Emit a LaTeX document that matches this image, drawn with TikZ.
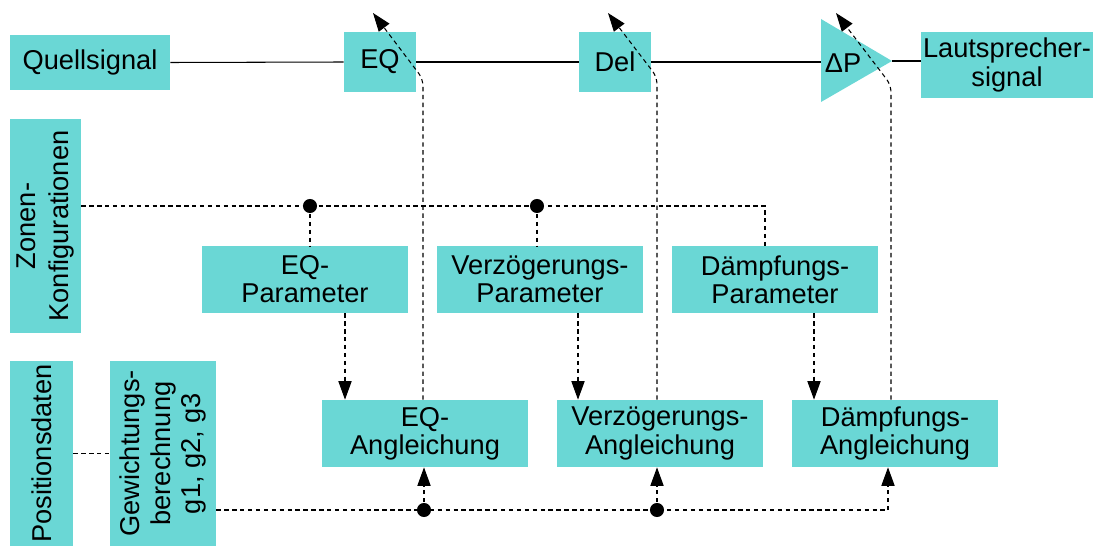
\documentclass[tikz,border=0pt]{standalone}
\usepackage{fontspec}
\setmainfont{Liberation Sans}
\usetikzlibrary{arrows.meta,calc}
\definecolor{turq}{RGB}{106,215,213}
\begin{document}
\begin{tikzpicture}[x=0.02cm,y=-0.02cm,
  box/.style={fill=turq,draw=none,inner sep=0pt,align=center,font=\fontsize{15.5}{16}\selectfont},
  vbox/.style={box,rotate=90,font=\fontsize{15.5}{17.6}\selectfont},
  sig/.style={line width=0.6pt},
  ctl/.style={line width=0.6pt,dash pattern=on 2.5pt off 2pt},
  arr/.style={-{Triangle[length=10.5pt,width=7.5pt]}},
  dot/.style={circle,fill=black,inner sep=0pt,minimum size=8pt}]
\useasboundingbox (0,0) rectangle (1105,547);
% top signal chain
\node[box,minimum width=160*0.02cm,minimum height=55*0.02cm] (src) at (90,62.5) {Quellsignal};
\node[box,minimum width=72*0.02cm,minimum height=60*0.02cm] (eq) at (380,62) {EQ};
\node[box,minimum width=72*0.02cm,minimum height=60*0.02cm] (del) at (615,62) {Del};
\fill[turq] (821,19) -- (892,61) -- (821,102) -- cycle;
\coordinate (dpL) at (821,62);
\coordinate (dpR) at (892,61);
\node[font=\fontsize{15.5}{16}\selectfont,inner sep=0pt] (dp) at (843,63) {ΔP};
\node[box,minimum width=172*0.02cm,minimum height=66*0.02cm] (out) at (1007,65) {Lautsprecher-\\signal};
% left column
\node[vbox,minimum width=214*0.02cm,minimum height=71*0.02cm,font=\fontsize{15.5}{18.5}\selectfont] (zon) at (45.5,226) {Zonen-\\Konfigurationen};
\node[vbox,minimum width=185*0.02cm,minimum height=63*0.02cm] (pos) at (41.5,453.5) {Positionsdaten};
\node[vbox,minimum width=185*0.02cm,minimum height=106*0.02cm] (gew) at (163,453.5) {Gewichtungs-\\berechnung\\g1, g2, g3};
% parameter boxes
\node[box,minimum width=206*0.02cm,minimum height=67*0.02cm] (eqp) at (305,279.5) {EQ-\\Parameter};
\node[box,minimum width=206*0.02cm,minimum height=67*0.02cm] (vzp) at (540,279.5) {Verzögerungs-\\Parameter};
\node[box,minimum width=206*0.02cm,minimum height=67*0.02cm] (dap) at (775,279.5) {Dämpfungs-\\Parameter};
% adjustment boxes
\node[box,minimum width=206*0.02cm,minimum height=67*0.02cm] (eqa) at (425,433.5) {EQ-\\Angleichung};
\node[box,minimum width=206*0.02cm,minimum height=67*0.02cm] (vza) at (660,433.5) {Verzögerungs-\\Angleichung};
\node[box,minimum width=206*0.02cm,minimum height=67*0.02cm] (daa) at (895,433.5) {Dämpfungs-\\Angleichung};
% signal lines
\draw[sig] (src.east) -- (eq.west);
\draw[sig] (eq.east) -- (del.west);
\draw[sig] (del.east) -- (dpL);
\draw[sig] (dpR) -- (out.west |- dpR);
% zone configuration bus
\coordinate (z1) at (310,206);
\coordinate (z2) at (537,206);
\coordinate (z3) at (765,206);
\draw[ctl] (zon.south |- z1) -- (z1) -- (z2) -- (z3) -- (z3 |- dap.north);
\draw[ctl] (z1) -- (z1 |- eqp.north);
\draw[ctl] (z2) -- (z2 |- vzp.north);
\node[dot] at (z1) {};
\node[dot] at (z2) {};
% parameter -> adjustment
\coordinate (p1) at (345,0);
\coordinate (p2) at (578,0);
\coordinate (p3) at (814,0);
\draw[ctl,arr] (p1 |- eqp.south) -- (p1 |- eqa.north);
\draw[ctl,arr] (p2 |- vzp.south) -- (p2 |- vza.north);
\draw[ctl,arr] (p3 |- dap.south) -- (p3 |- daa.north);
% position data
\draw[ctl] (pos.south |- gew.center) -- (gew.north |- gew.center);
% weighting bus
\coordinate (w1) at (424,510);
\coordinate (w2) at (657,510);
\coordinate (w3) at (888,510);
\draw[ctl] (gew.south |- w1) -- (w1) -- (w2) -- (w3);
\draw[ctl,arr] (w3) -- (w3 |- daa.south);
\draw[ctl,arr] (w1) -- (w1 |- eqa.south);
\draw[ctl,arr] (w2) -- (w2 |- vza.south);
\node[dot] at (w1) {};
\node[dot] at (w2) {};
% adjustment -> blocks (variable arrows)
\coordinate (t1) at (373,13);
\coordinate (t2) at (608,13);
\coordinate (t3) at (836,13);
\draw[ctl,arr,rounded corners=4pt] (eqa.north -| 423,0) -- (423,79) -- (t1);
\draw[ctl,arr,rounded corners=4pt] (vza.north -| 657,0) -- (657,77) -- (t2);
\draw[ctl,arr,rounded corners=4pt] (daa.north -| 891,0) -- (891,85) -- (t3);
\end{tikzpicture}
\end{document}
